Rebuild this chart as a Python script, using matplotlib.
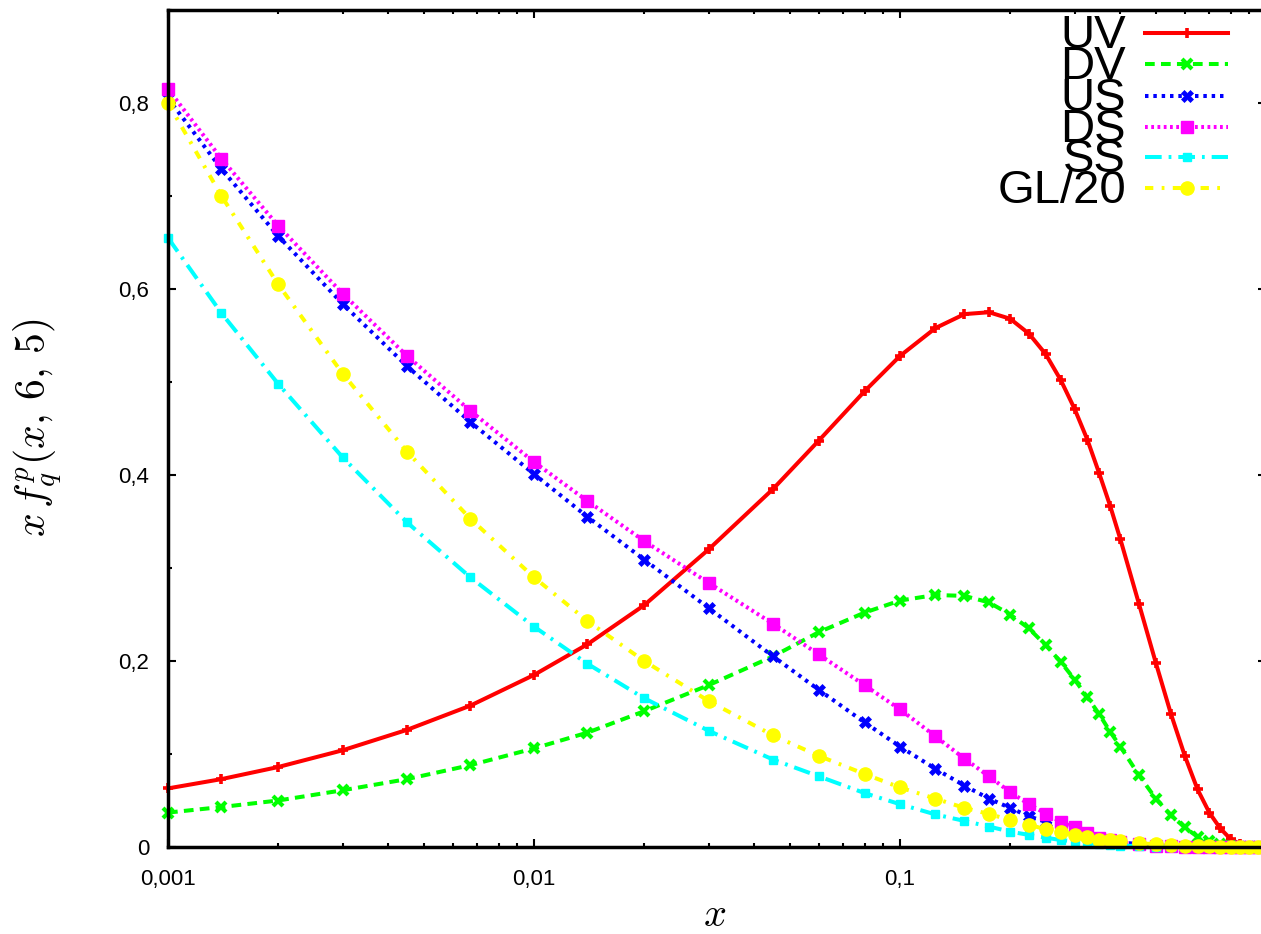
import matplotlib
matplotlib.use("Agg")
from matplotlib import pyplot as plt
from matplotlib.lines import Line2D
from matplotlib.ticker import FixedLocator, LogLocator, MultipleLocator, FuncFormatter, NullFormatter

plt.rcParams['font.family'] = ['Liberation Sans', 'DejaVu Sans']
plt.rcParams['mathtext.fontset'] = 'cm'
plt.rcParams['lines.scale_dashes'] = False

# sampling points in x
x_grid = [0.001, 0.0014, 0.002, 0.003, 0.0045, 0.0067, 0.01, 0.014, 0.02, 0.03,
          0.045, 0.06, 0.08, 0.1, 0.125, 0.15, 0.175, 0.2, 0.225, 0.25,
          0.275, 0.3, 0.325, 0.35, 0.375, 0.4, 0.45, 0.5, 0.55, 0.6,
          0.65, 0.7, 0.75, 0.8, 0.85, 0.9, 0.95, 1.0]

uv = [0.063, 0.073, 0.086, 0.104, 0.126, 0.152, 0.185, 0.218, 0.260, 0.320,
      0.385, 0.437, 0.490, 0.528, 0.558, 0.573, 0.575, 0.568, 0.552, 0.530,
      0.502, 0.471, 0.438, 0.402, 0.367, 0.331, 0.261, 0.198, 0.143, 0.098,
      0.062, 0.037, 0.020, 0.0086, 0.003, 0.001, 0.0, 0.0]
dv = [0.037, 0.043, 0.050, 0.061, 0.073, 0.088, 0.106, 0.123, 0.146, 0.174,
      0.205, 0.231, 0.252, 0.265, 0.271, 0.270, 0.263, 0.250, 0.235, 0.217,
      0.199, 0.180, 0.161, 0.143, 0.124, 0.108, 0.077, 0.052, 0.034, 0.021,
      0.011, 0.0065, 0.003, 0.0015, 0.0005, 0.0002, 0.0, 0.0]
us = [0.805, 0.729, 0.657, 0.584, 0.517, 0.457, 0.401, 0.355, 0.309, 0.257,
      0.205, 0.169, 0.134, 0.108, 0.084, 0.066, 0.052, 0.042, 0.033, 0.027,
      0.021, 0.016, 0.012, 0.009, 0.007, 0.005, 0.003, 0.0015, 0.001, 0.0005,
      0.0003, 0.0001, 0.0, 0.0, 0.0, 0.0, 0.0, 0.0]
ds = [0.815, 0.740, 0.668, 0.595, 0.528, 0.469, 0.414, 0.372, 0.329, 0.284,
      0.240, 0.207, 0.174, 0.148, 0.119, 0.095, 0.076, 0.059, 0.046, 0.036,
      0.027, 0.021, 0.015, 0.010, 0.007, 0.005, 0.003, 0.0015, 0.001, 0.0005,
      0.0003, 0.0001, 0.0, 0.0, 0.0, 0.0, 0.0, 0.0]
ss = [0.655, 0.574, 0.498, 0.419, 0.349, 0.290, 0.237, 0.197, 0.160, 0.125,
      0.094, 0.076, 0.058, 0.046, 0.035, 0.028, 0.022, 0.0165, 0.013, 0.010,
      0.0075, 0.006, 0.004, 0.003, 0.002, 0.0015, 0.001, 0.0005, 0.0002, 0.0,
      0.0, 0.0, 0.0, 0.0, 0.0, 0.0, 0.0, 0.0]
gl20 = [0.800, 0.700, 0.605, 0.509, 0.425, 0.353, 0.290, 0.243, 0.200, 0.157,
        0.120, 0.098, 0.0785, 0.064, 0.052, 0.042, 0.0355, 0.029, 0.024, 0.019,
        0.0165, 0.013, 0.011, 0.008, 0.007, 0.006, 0.004, 0.003, 0.002, 0.0015,
        0.001, 0.0007, 0.0005, 0.0003, 0.0002, 0.0001, 0.0, 0.0]

labels = ["UV", "DV", "US", "DS", "SS", "GL/20"]
series = [uv, dv, us, ds, ss, gl20]

styles = [
    dict(color='#ff0000', linestyle='-', marker='+', ms=7, mew=2.6),
    dict(color='#00ff00', dashes=(7, 4.5), marker='x', ms=7, mew=3),
    dict(color='#0000ff', dashes=(2.5, 3.5), marker='X', ms=8.5, mew=0.5),
    dict(color='#ff00ff', dashes=(2, 2.5), marker='s', ms=8.5),
    dict(color='#00ffff', dashes=(12, 5, 2, 5), marker='s', ms=5.5),
    dict(color='#ffff00', dashes=(6, 6, 2, 6), marker='o', ms=9.5),
]
LW = 2.9

W, H = 1261, 934
fig = plt.figure(figsize=(W / 100, H / 100), dpi=100)
ax = fig.add_axes([168 / W, (H - 847) / H, (1266 - 168) / W, (847 - 10) / H])

for y, st in zip(series, styles):
    ax.plot(x_grid, y, lw=LW, clip_on=False, **st)

ax.set_xscale('log')
ax.set_xlim(0.001, 1)
ax.set_ylim(0, 0.9)

def comma(v, pos):
    return ('%g' % v).replace('.', ',')

ax.xaxis.set_major_locator(FixedLocator([0.001, 0.01, 0.1]))
ax.xaxis.set_minor_locator(LogLocator(base=10, subs=range(2, 10), numticks=20))
ax.xaxis.set_major_formatter(FuncFormatter(comma))
ax.xaxis.set_minor_formatter(NullFormatter())
ax.yaxis.set_major_locator(FixedLocator([0, 0.2, 0.4, 0.6, 0.8]))
ax.yaxis.set_minor_locator(MultipleLocator(0.1))
ax.yaxis.set_major_formatter(FuncFormatter(comma))

ax.tick_params(which='both', direction='in', top=True, right=True, width=1.5,
               colors='black', labelsize=16)
ax.tick_params(which='major', length=5.8)
ax.tick_params(which='minor', length=2.9)
ax.tick_params(axis='x', pad=16)
ax.tick_params(axis='y', pad=13.5)
for sp in ax.spines.values():
    sp.set_linewidth(2.5)

# axis titles
fig.text(715 / W, 1 - 915 / H, r'$x$', fontsize=29, ha='center', va='center')
fig.text(38 / W, 1 - 428 / H, r'$x\,f_q^p(x,\,6,\,5)$', fontsize=30,
         rotation=90, ha='center', va='center')

# key in the upper right corner
row_y = [33, 64, 96, 127, 157, 188]
for lab, st, ry in zip(labels, styles, row_y):
    fig.text(1126 / W, 1 - (ry + 15) / H, lab, fontsize=34, ha='right', va='baseline')
    line_st = {k: v for k, v in st.items() if k not in ('marker', 'ms', 'mew')}
    fig.add_artist(Line2D([1145 / W, 1228 / W], [1 - ry / H, 1 - ry / H],
                          transform=fig.transFigure, lw=LW, **line_st))
    fig.add_artist(Line2D([1187 / W], [1 - ry / H], transform=fig.transFigure,
                          linestyle='none', color=st['color'], marker=st['marker'],
                          ms=st['ms'], mew=st.get('mew', 1)))

fig.savefig('out.png', dpi=100)
